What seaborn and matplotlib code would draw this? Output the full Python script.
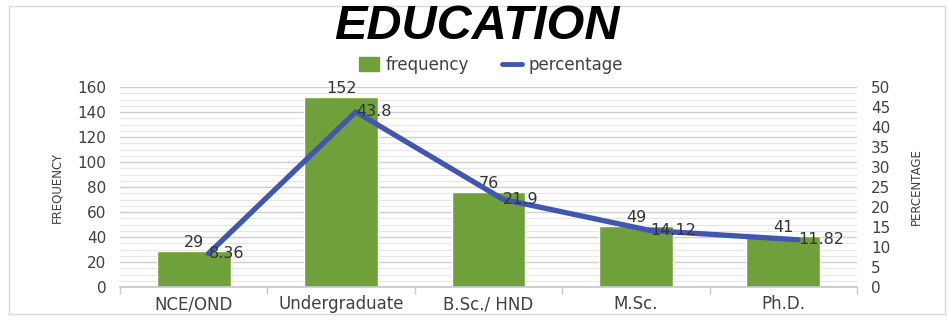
import numpy as np
import pandas as pd
import matplotlib
matplotlib.use("Agg")
import matplotlib.pyplot as plt
from matplotlib.patches import Rectangle
from matplotlib.lines import Line2D
from matplotlib.ticker import MultipleLocator
import seaborn as sns

categories = ["NCE/OND", "Undergraduate", "B.Sc./ HND", "M.Sc.", "Ph.D."]
frequency = [29, 152, 76, 49, 41]
percentage = [8.36, 43.8, 21.9, 14.12, 11.82]
pct_labels = ["8.36", "43.8", "21.9", "14.12", "11.82"]

green = "#70a03c"
blue = "#4057ad"
tick_col = "#404040"

sns.set_theme(style="white")
plt.rcParams["font.family"] = ["DejaVu Sans"]

df = pd.DataFrame({"level": categories, "frequency": frequency, "percentage": percentage})

fig = plt.figure(figsize=(9.48, 3.2), dpi=100)
ax = fig.add_axes([0.1266, 0.103, 0.7774, 0.625])

# grid first so bars cover it
ax.yaxis.set_major_locator(MultipleLocator(20))
ax.yaxis.set_minor_locator(MultipleLocator(5))
ax.grid(axis="y", which="major", color="#cfcfcf", lw=1.0)
ax.grid(axis="y", which="minor", color="#e6e6e6", lw=0.8)
ax.set_axisbelow(True)

sns.barplot(data=df, x="level", y="frequency", color=green, width=0.5,
            saturation=1, ax=ax)
ax.set_xlim(-0.5, 4.5)
ax.set_ylim(0, 160)

for i, v in enumerate(frequency):
    ax.text(i, v + 0.5, str(v), ha="center", va="bottom", fontsize=11.5, color="#333333")

ax2 = ax.twinx()
xs = np.arange(len(categories)) + 0.1
sns.lineplot(x=xs, y=percentage, color=blue, lw=3.8, ax=ax2, zorder=3)
ax2.set_ylim(0, 50)
ax2.yaxis.set_major_locator(MultipleLocator(5))
for x, v, t in zip(xs, percentage, pct_labels):
    ax2.text(x, v, t, ha="left", va="center", fontsize=11.5, color="#333333", zorder=4)

# spines and ticks
for a in (ax, ax2):
    for s in a.spines.values():
        s.set_visible(False)
ax.spines["bottom"].set_visible(True)
ax.spines["bottom"].set_color("#c8c8c8")

ax.set_xticks(range(len(categories)))
ax.set_xticklabels(categories, fontsize=12, color=tick_col)
ax.set_xticks(np.arange(-0.5, 5, 1), minor=True)
ax.tick_params(axis="x", which="major", length=0, pad=6)
ax.tick_params(axis="x", which="minor", length=5, color="#c8c8c8", bottom=True)
ax.tick_params(axis="y", which="both", length=0, labelsize=11, labelcolor=tick_col, pad=10)
ax2.tick_params(axis="y", which="both", length=0, labelsize=11, labelcolor=tick_col, pad=10)

ax.set_xlabel("")
ax.set_ylabel("FREQUENCY", fontsize=8.5, color=tick_col, labelpad=10)
ax2.set_ylabel("PERCENTAGE", fontsize=8.5, color=tick_col, labelpad=14)

fig.text(0.503, 0.918, "EDUCATION", ha="center", va="center", fontsize=35,
         fontweight="bold", fontstyle="italic",
         family=["Liberation Sans", "DejaVu Sans"], color="black")

handles = [Rectangle((0, 0), 1, 1, color=green),
           Line2D([0], [0], color=blue, lw=3.5)]
fig.legend(handles, ["frequency", "percentage"], loc="center", ncol=2,
           bbox_to_anchor=(0.518, 0.797), frameon=False, fontsize=12,
           handlelength=1.2, handleheight=0.9, columnspacing=2.0, handletextpad=0.4,
           labelcolor=tick_col)

fig.patches.append(Rectangle((0.009, 0.02), 0.988, 0.962, transform=fig.transFigure,
                             fill=False, edgecolor="#d9d9d9", lw=1.0))

fig.savefig("out.png", dpi=100)
